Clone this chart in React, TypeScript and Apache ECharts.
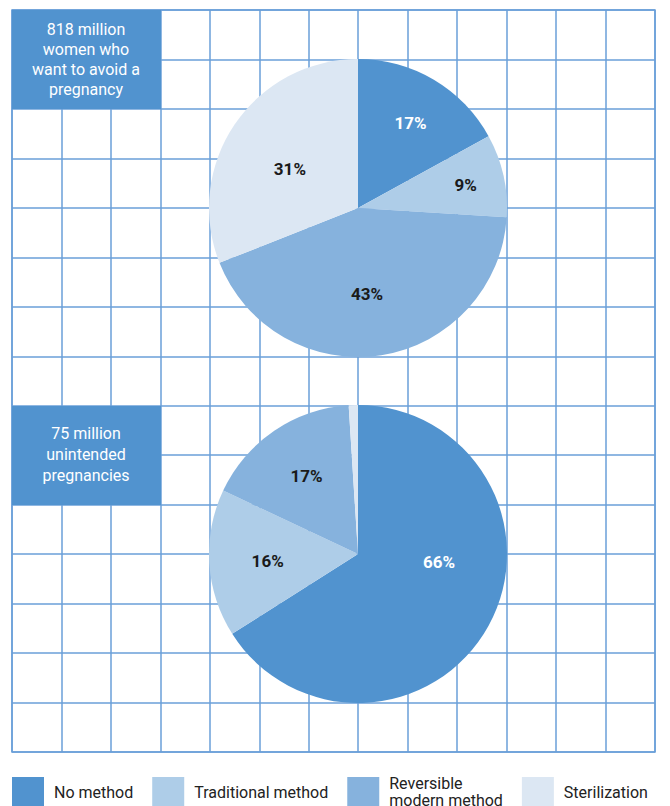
import React, { useEffect, useRef } from "react";
import * as echarts from "echarts";

const categories = ["No method", "Traditional method", "Reversible modern method", "Sterilization"];
const colors = ["#5193CF", "#AECDE8", "#86B2DD", "#DCE7F3"];
const womenValues = [17, 9, 43, 31];
const pregnancyValues = [66, 16, 17, 1];
const womenTitle = "818 million\nwomen who\nwant to avoid a\npregnancy";
const pregnancyTitle = "75 million\nunintended\npregnancies";
const womenLabelOffsets = [[13, -18], [32, -6], [-3, 9], [-4, 5]];
const pregnancyLabelOffsets = [[13, -29], [-13, 2], [-8, -14], [0, 0]];
const labelColors = ["#ffffff", "#1a1a1a", "#1a1a1a", "#1a1a1a"];

const GRID_COLS = 13;
const GRID_ROWS = 15;

function buildData(values: number[], offsets: number[][], hideSmall: boolean) {
  return values.map((v, i) => ({
    name: categories[i],
    value: v,
    itemStyle: { color: colors[i] },
    label: {
      show: !(hideSmall && v < 3),
      offset: offsets[i],
      color: labelColors[i],
    },
  }));
}

export default function App() {
  const ref = useRef<HTMLDivElement>(null);
  useEffect(() => {
    if (!ref.current) return;
    const chart = echarts.init(ref.current, undefined, { renderer: "svg" });
    const gridLine = { show: true, lineStyle: { color: "#6A9FD8", width: 1.5 } };
    const pieCommon = {
      type: "pie",
      radius: [0, 149],
      startAngle: 90,
      clockwise: true,
      silent: true,
      avoidLabelOverlap: false,
      itemStyle: { borderWidth: 0 },
      label: {
        position: "inside",
        formatter: "{c}%",
        fontFamily: "Roboto",
        fontWeight: "bold",
        fontSize: 17,
      },
      labelLine: { show: false },
      emphasis: { disabled: true },
      z: 3,
    };
    chart.setOption({
      animation: false,
      grid: {
        left: 12,
        top: 10,
        width: 643,
        height: 742,
        show: true,
        borderColor: "#6A9FD8",
        borderWidth: 1.5,
        backgroundColor: "#ffffff",
      },
      xAxis: {
        type: "value",
        min: 0,
        max: GRID_COLS,
        interval: 1,
        axisLine: { show: false },
        axisTick: { show: false },
        axisLabel: { show: false },
        splitLine: gridLine,
      },
      yAxis: {
        type: "value",
        min: 0,
        max: GRID_ROWS,
        interval: 1,
        axisLine: { show: false },
        axisTick: { show: false },
        axisLabel: { show: false },
        splitLine: gridLine,
      },
      legend: {
        left: 12,
        top: 775,
        padding: 0,
        itemWidth: 32,
        itemHeight: 30,
        itemGap: 19,
        icon: "rect",
        selectedMode: false,
        data: categories,
        formatter: (name: string) =>
          name === "Reversible modern method" ? "Reversible\nmodern method" : name,
        textStyle: {
          fontFamily: "Roboto",
          fontSize: 16,
          color: "#222222",
          lineHeight: 17,
          padding: [0, 0, 0, 5],
        },
      },
      series: [
        { ...pieCommon, name: "women", center: [358, 208], data: buildData(womenValues, womenLabelOffsets, false) },
        { ...pieCommon, name: "pregnancies", center: [358, 554], data: buildData(pregnancyValues, pregnancyLabelOffsets, true) },
      ],
      graphic: [
        {
          type: "rect",
          shape: { x: 12, y: 10, width: 149, height: 99 },
          style: { fill: "#5193CF" },
          z: 10,
        },
        {
          type: "text",
          x: 86,
          y: 59.5,
          z: 11,
          style: {
            text: womenTitle,
            fill: "#ffffff",
            font: "16px Roboto",
            lineHeight: 20,
            align: "center",
            verticalAlign: "middle",
          },
        },
        {
          type: "rect",
          shape: { x: 12, y: 406, width: 149, height: 99 },
          style: { fill: "#5193CF" },
          z: 10,
        },
        {
          type: "text",
          x: 86,
          y: 454,
          z: 11,
          style: {
            text: pregnancyTitle,
            fill: "#ffffff",
            font: "16px Roboto",
            lineHeight: 21,
            align: "center",
            verticalAlign: "middle",
          },
        },
      ],
    });
    return () => chart.dispose();
  }, []);
  return <div ref={ref} style={{ width: 670, height: 806, position: "absolute", left: 0, top: 0 }} />;
}
